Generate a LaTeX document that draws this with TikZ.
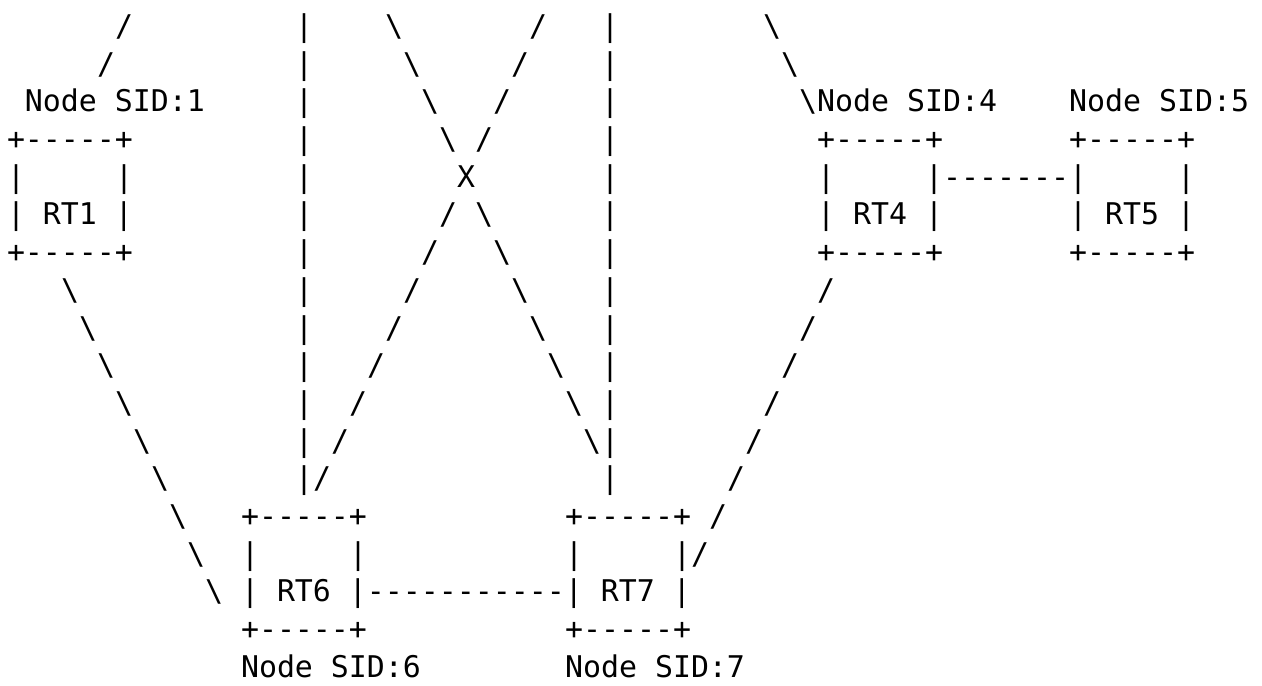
\documentclass[tikz,border=0pt]{standalone}
\usepackage{fontspec}
\newfontfamily\asciifont{DejaVu Sans Mono}
\tikzset{
  txt/.style={anchor=base west, inner sep=0pt, outer sep=0pt, text=black,
    font=\asciifont\fontsize{14.949pt}{18pt}\selectfont}
}
% \seg{row}{column}{text}
\newcommand\seg[3]{\node[txt] (r#1c#2) at ({7+18*#2},{36.4+37.7*(#1-1)}) {#3};}
\begin{document}
\begin{tikzpicture}[x=0.5pt,y=-0.5pt]
\fill[white] (0,0) rectangle (1262,685);
\useasboundingbox (0,0) rectangle (1262,685);
% row 1
\seg{1}{6}{/}\seg{1}{16}{|}\seg{1}{21}{\textbackslash}\seg{1}{29}{/}\seg{1}{33}{|}\seg{1}{42}{\textbackslash}
% row 2
\seg{2}{5}{/}\seg{2}{16}{|}\seg{2}{22}{\textbackslash}\seg{2}{28}{/}\seg{2}{33}{|}\seg{2}{43}{\textbackslash}
% row 3
\seg{3}{1}{Node SID:1}\seg{3}{16}{|}\seg{3}{23}{\textbackslash}\seg{3}{27}{/}\seg{3}{33}{|}\seg{3}{44}{\textbackslash Node SID:4}\seg{3}{59}{Node SID:5}
% row 4
\seg{4}{0}{+-{}-{}-{}-{}-+}\seg{4}{16}{|}\seg{4}{24}{\textbackslash}\seg{4}{26}{/}\seg{4}{33}{|}\seg{4}{45}{+-{}-{}-{}-{}-+}\seg{4}{59}{+-{}-{}-{}-{}-+}
% row 5
\seg{5}{0}{|}\seg{5}{6}{|}\seg{5}{16}{|}\seg{5}{25}{X}\seg{5}{33}{|}\seg{5}{45}{|}\seg{5}{51}{|-{}-{}-{}-{}-{}-{}-|}\seg{5}{65}{|}
% row 6
\seg{6}{0}{| RT1 |}\seg{6}{16}{|}\seg{6}{24}{/}\seg{6}{26}{\textbackslash}\seg{6}{33}{|}\seg{6}{45}{| RT4 |}\seg{6}{59}{| RT5 |}
% row 7
\seg{7}{0}{+-{}-{}-{}-{}-+}\seg{7}{16}{|}\seg{7}{23}{/}\seg{7}{27}{\textbackslash}\seg{7}{33}{|}\seg{7}{45}{+-{}-{}-{}-{}-+}\seg{7}{59}{+-{}-{}-{}-{}-+}
% rows 8-12
\seg{8}{3}{\textbackslash}\seg{8}{16}{|}\seg{8}{22}{/}\seg{8}{28}{\textbackslash}\seg{8}{33}{|}\seg{8}{45}{/}
\seg{9}{4}{\textbackslash}\seg{9}{16}{|}\seg{9}{21}{/}\seg{9}{29}{\textbackslash}\seg{9}{33}{|}\seg{9}{44}{/}
\seg{10}{5}{\textbackslash}\seg{10}{16}{|}\seg{10}{20}{/}\seg{10}{30}{\textbackslash}\seg{10}{33}{|}\seg{10}{43}{/}
\seg{11}{6}{\textbackslash}\seg{11}{16}{|}\seg{11}{19}{/}\seg{11}{31}{\textbackslash}\seg{11}{33}{|}\seg{11}{42}{/}
\seg{12}{7}{\textbackslash}\seg{12}{16}{|}\seg{12}{18}{/}\seg{12}{32}{\textbackslash}\seg{12}{33}{|}\seg{12}{41}{/}
% row 13
\seg{13}{8}{\textbackslash}\seg{13}{16}{|/}\seg{13}{33}{|}\seg{13}{40}{/}
% row 14
\seg{14}{9}{\textbackslash}\seg{14}{13}{+-{}-{}-{}-{}-+}\seg{14}{31}{+-{}-{}-{}-{}-+}\seg{14}{39}{/}
% row 15
\seg{15}{10}{\textbackslash}\seg{15}{13}{|}\seg{15}{19}{|}\seg{15}{31}{|}\seg{15}{37}{|/}
% row 16
\seg{16}{11}{\textbackslash}\seg{16}{13}{| RT6 |-{}-{}-{}-{}-{}-{}-{}-{}-{}-{}-| RT7 |}
% row 17
\seg{17}{13}{+-{}-{}-{}-{}-+}\seg{17}{31}{+-{}-{}-{}-{}-+}
% row 18
\seg{18}{13}{Node SID:6}\seg{18}{31}{Node SID:7}
\end{tikzpicture}
\end{document}
